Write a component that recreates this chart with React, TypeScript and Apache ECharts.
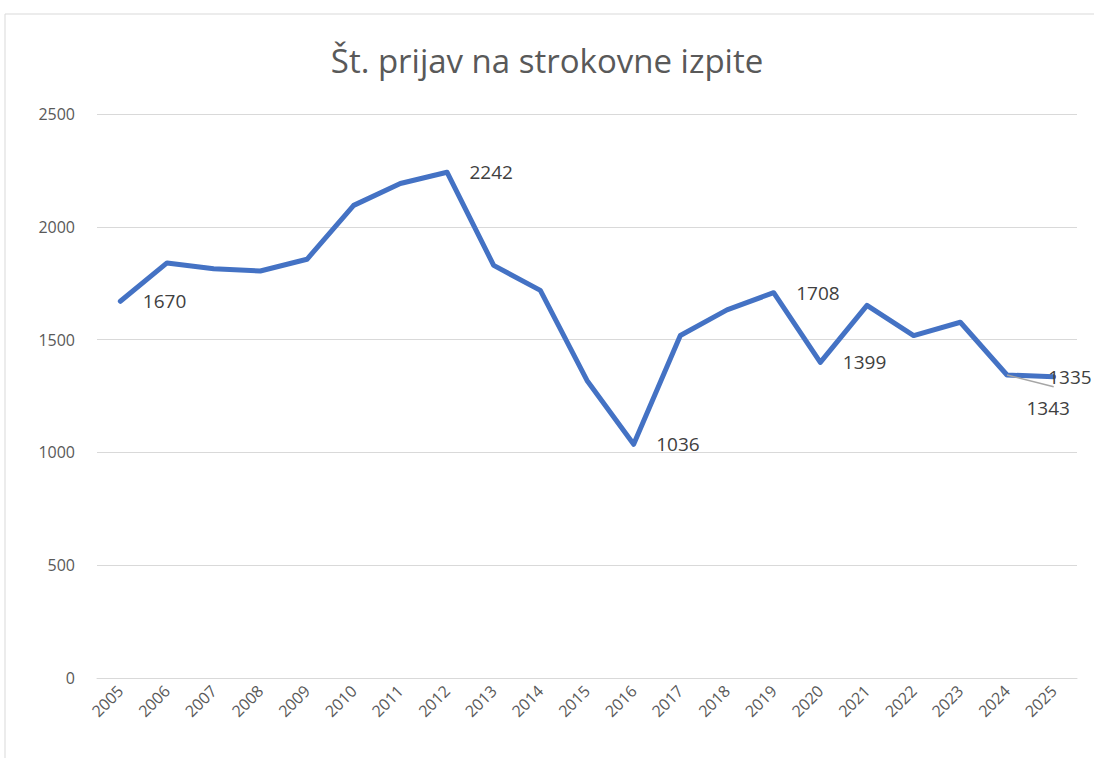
import React, { useEffect, useRef } from "react";
import * as echarts from "echarts";

const title = "Št. prijav na strokovne izpite";
const years = ["2005","2006","2007","2008","2009","2010","2011","2012","2013","2014","2015","2016","2017","2018","2019","2020","2021","2022","2023","2024","2025"];
const applications = [1670, 1840, 1814, 1804, 1856, 2095, 2192, 2242, 1829, 1718, 1319, 1036, 1518, 1632, 1708, 1399, 1652, 1518, 1577, 1343, 1335];
const labelledYears = ["2005", "2012", "2016", "2019", "2020", "2024", "2025"];
// leader line for the 2024 label: from the point towards the label (data space)
const leaderFrom = ["2024", 1343];
const leaderTo = ["2025", 1291];

const FONT = "'Open Sans', 'Noto Sans', sans-serif";

export default function App() {
  const ref = useRef<HTMLDivElement>(null);
  useEffect(() => {
    document.body.style.margin = "0";
    if (!ref.current) return;
    const chart = echarts.init(ref.current, null, { renderer: "svg" });
    const leaderIndex = years.indexOf("2024");
    const lastIndex = years.indexOf("2025");
    const data = applications.map((v, i) => {
      const y = years[i];
      const item: any = { value: v };
      if (!labelledYears.includes(y)) {
        item.label = { show: false };
      }
      return item;
    });
    chart.setOption({
      animation: false,
      title: {
        text: title,
        left: "center",
        top: 39,
        textStyle: { fontFamily: FONT, fontSize: 33, fontWeight: "normal", color: "#595959" },
      },
      graphic: [
        {
          type: "rect",
          shape: { x: 5, y: 14, width: 1200, height: 900 },
          style: { fill: "none", stroke: "#d9d9d9", lineWidth: 1 },
          silent: true,
        },
      ],
      grid: { left: 97, right: 17, top: 114, bottom: 80, containLabel: false },
      xAxis: {
        type: "category",
        data: years,
        boundaryGap: true,
        axisLine: { show: true, lineStyle: { color: "#d9d9d9", width: 1 } },
        axisTick: { show: false },
        axisLabel: {
          rotate: 45,
          margin: 10,
          interval: 0,
          color: "#595959",
          fontFamily: FONT,
          fontSize: 16,
        },
      },
      yAxis: {
        type: "value",
        min: 0,
        max: 2500,
        interval: 500,
        axisLine: { show: false },
        axisTick: { show: false },
        splitLine: { lineStyle: { color: "#d9d9d9", width: 1 } },
        axisLabel: {
          margin: 22,
          color: "#595959",
          fontFamily: FONT,
          fontSize: 16,
          formatter: (v: number) => String(v),
        },
      },
      series: [
        {
          type: "line",
          data,
          symbol: "circle",
          symbolSize: 1,
          showSymbol: true,
          lineStyle: { color: "#4472C4", width: 5, join: "round", cap: "round" },
          itemStyle: { color: "#4472C4" },
          label: {
            show: true,
            position: "right",
            distance: 22,
            color: "#404040",
            fontFamily: FONT,
            fontSize: 19,
          },
          labelLine: { show: false },
          labelLayout: (params: any) => {
            if (params.dataIndex === lastIndex) return { dx: -28, dy: 0 };
            if (params.dataIndex === leaderIndex) return { dx: -3, dy: 33 };
            return {};
          },
          markLine: {
            silent: true,
            symbol: ["none", "none"],
            label: { show: false },
            lineStyle: { color: "#a6a6a6", width: 1.5, type: "solid" },
            data: [[{ coord: leaderFrom }, { coord: leaderTo }]],
          },
          z: 3,
        },
      ],
    });
    return () => chart.dispose();
  }, []);
  return <div ref={ref} style={{ width: 1094, height: 758 }} />;
}
